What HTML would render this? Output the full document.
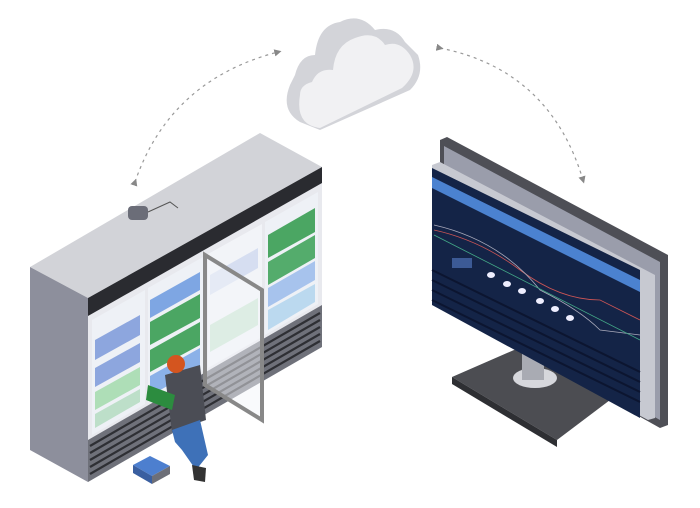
<!DOCTYPE html>
<html><head><style>html,body{margin:0;padding:0;background:#fff}svg{display:block}</style></head>
<body>
<svg width="700" height="508" viewBox="0 0 700 508" xmlns="http://www.w3.org/2000/svg">
<defs>
<marker id="ah" markerWidth="6" markerHeight="6" refX="3" refY="3" orient="auto"><path d="M0,0 L6,3 L0,6z" fill="#888"/></marker>
</defs>
<path d="M135,182 Q170,80 278,52" fill="none" stroke="#999" stroke-width="1.2" stroke-dasharray="3,4" marker-start="url(#ah)" marker-end="url(#ah)"/>
<path d="M440,48 Q550,70 583,180" fill="none" stroke="#999" stroke-width="1.2" stroke-dasharray="3,4" marker-start="url(#ah)" marker-end="url(#ah)"/>
<g>
<path d="M290,85 Q280,110 300,122 L320,130 L410,90 Q425,75 418,55 L405,42 Q395,25 375,30 Q360,12 340,22 Q318,25 315,55 Q300,55 295,75z" fill="#d3d4d9"/>
<path d="M300,95 Q295,125 320,128 L402,88 Q420,72 410,55 Q400,40 385,45 Q375,30 355,38 Q335,45 333,70 Q318,68 312,82 Q300,85 300,95z" fill="#f1f1f3"/>
</g>
<!-- fridge -->
<polygon points="30,267 260,133 322,167 88,298" fill="#d2d3d8"/>
<polygon points="30,267 88,298 88,482 30,450" fill="#8d8f9c"/>
<polygon points="88,298 322,167 322,347 88,482" fill="#e8e9ee"/>
<polygon points="88,298 322,167 322,183 88,316" fill="#2a2b30"/>
<polygon points="88,440 322,305 322,347 88,482" fill="#6f717a"/>
<g stroke="#2e2f34" stroke-width="2.2">
<line x1="90" y1="446" x2="320" y2="313"/><line x1="90" y1="453" x2="320" y2="320"/><line x1="90" y1="460" x2="320" y2="327"/><line x1="90" y1="467" x2="320" y2="334"/><line x1="90" y1="474" x2="320" y2="341"/>
</g>
<polygon points="92,320 145,290 145,404 92,435" fill="#eef1f6"/>
<polygon points="148,288 203,257 203,371 148,402" fill="#eef1f6"/>
<polygon points="208,254 262,224 262,337 208,368" fill="#f2f4f8"/>
<polygon points="265,222 318,192 318,304 265,335" fill="#eef1f6"/>
<g opacity="0.85">
<polygon points="95,340 140,315 140,335 95,360" fill="#7d9ada"/>
<polygon points="95,368 140,343 140,362 95,387" fill="#7d9ada"/>
<polygon points="95,392 140,367 140,385 95,410" fill="#a3dbad"/>
<polygon points="95,414 140,389 140,402 95,428" fill="#b5dcc2"/>
<polygon points="150,300 200,272 200,290 150,318" fill="#6b9ae0"/>
<polygon points="150,322 200,294 200,318 150,345" fill="#2f9a4a"/>
<polygon points="150,350 200,322 200,345 150,372" fill="#2f9a4a"/>
<polygon points="150,376 200,348 200,367 150,396" fill="#7aa6e6"/>
<polygon points="210,275 258,248 258,268 210,295" fill="#d2dbf0"/>
<polygon points="210,325 258,298 258,325 210,352" fill="#bfe3c8"/>
<polygon points="268,235 315,208 315,232 268,258" fill="#2f9a4a"/>
<polygon points="268,262 315,235 315,258 268,285" fill="#3aa055"/>
<polygon points="268,288 315,261 315,280 268,307" fill="#9bbcec"/>
<polygon points="268,310 315,284 315,302 268,330" fill="#b3d5ee"/>
</g>
<polygon points="205,255 262,290 262,420 205,385" fill="#f4f6fa" fill-opacity="0.5" stroke="#888" stroke-width="4"/>
<rect x="128" y="206" width="20" height="14" rx="4" fill="#6b6d78"/>
<path d="M148,212 L170,202 L178,208" stroke="#555" fill="none"/>
<!-- person -->
<polygon points="165,375 200,365 206,420 172,432" fill="#4b4d55"/>
<circle cx="176" cy="364" r="9" fill="#d4551f"/>
<polygon points="148,385 175,395 172,410 146,400" fill="#2c8c3f"/>
<polygon points="172,430 200,420 208,455 196,470 182,450 175,442" fill="#3e71b8"/>
<polygon points="192,465 206,468 205,482 194,480" fill="#333"/>
<polygon points="133,465 150,456 170,466 152,476" fill="#4d7fcf"/>
<polygon points="133,465 152,476 152,484 133,473" fill="#3a5fa0"/>
<polygon points="152,476 170,466 170,474 152,484" fill="#6d6f78"/>
<!-- monitor -->
<polygon points="452,377 530,343 610,400 557,440" fill="#4c4d52"/>
<polygon points="452,377 557,440 557,447 452,384" fill="#2e2f33"/>
<ellipse cx="535" cy="378" rx="22" ry="10" fill="#d6d7dc"/>
<rect x="522" y="350" width="22" height="30" fill="#a9abb3"/>
<polygon points="440,140 447,137 668,255 668,425 660,428 440,305" fill="#4e4f56"/>
<polygon points="444,146 660,262 660,420 444,300" fill="#9a9dab"/>
<polygon points="432,165 440,162 655,275 655,418 648,420 432,303" fill="#c7c9d1"/>
<polygon points="432,168 640,270 640,418 432,305" fill="#142447"/>
<polygon points="432,177 640,280 640,292 432,188" fill="#4b82d0"/>
<path d="M434,230 Q480,240 520,270 T600,300 L640,320" stroke="#c55" stroke-width="0.8" fill="none"/>
<path d="M434,225 Q500,240 540,290 Q580,310 600,330 L640,335" stroke="#aab" stroke-width="0.8" fill="none"/>
<path d="M434,235 L640,340" stroke="#4a8" stroke-width="0.8" fill="none"/>
<rect x="452" y="258" width="20" height="10" fill="#3c5a95"/>
<g fill="#eef">
<ellipse cx="491" cy="275" rx="4" ry="3"/><ellipse cx="507" cy="284" rx="4" ry="3"/><ellipse cx="522" cy="291" rx="4" ry="3"/><ellipse cx="540" cy="301" rx="4" ry="3"/><ellipse cx="555" cy="309" rx="4" ry="3"/><ellipse cx="570" cy="318" rx="4" ry="3"/>
</g>
<g stroke="#0c1530" stroke-width="2">
<line x1="432" y1="270" x2="640" y2="372"/><line x1="432" y1="280" x2="640" y2="382"/><line x1="432" y1="290" x2="640" y2="392"/><line x1="432" y1="300" x2="640" y2="402"/>
</g>
</svg>
</body></html>
